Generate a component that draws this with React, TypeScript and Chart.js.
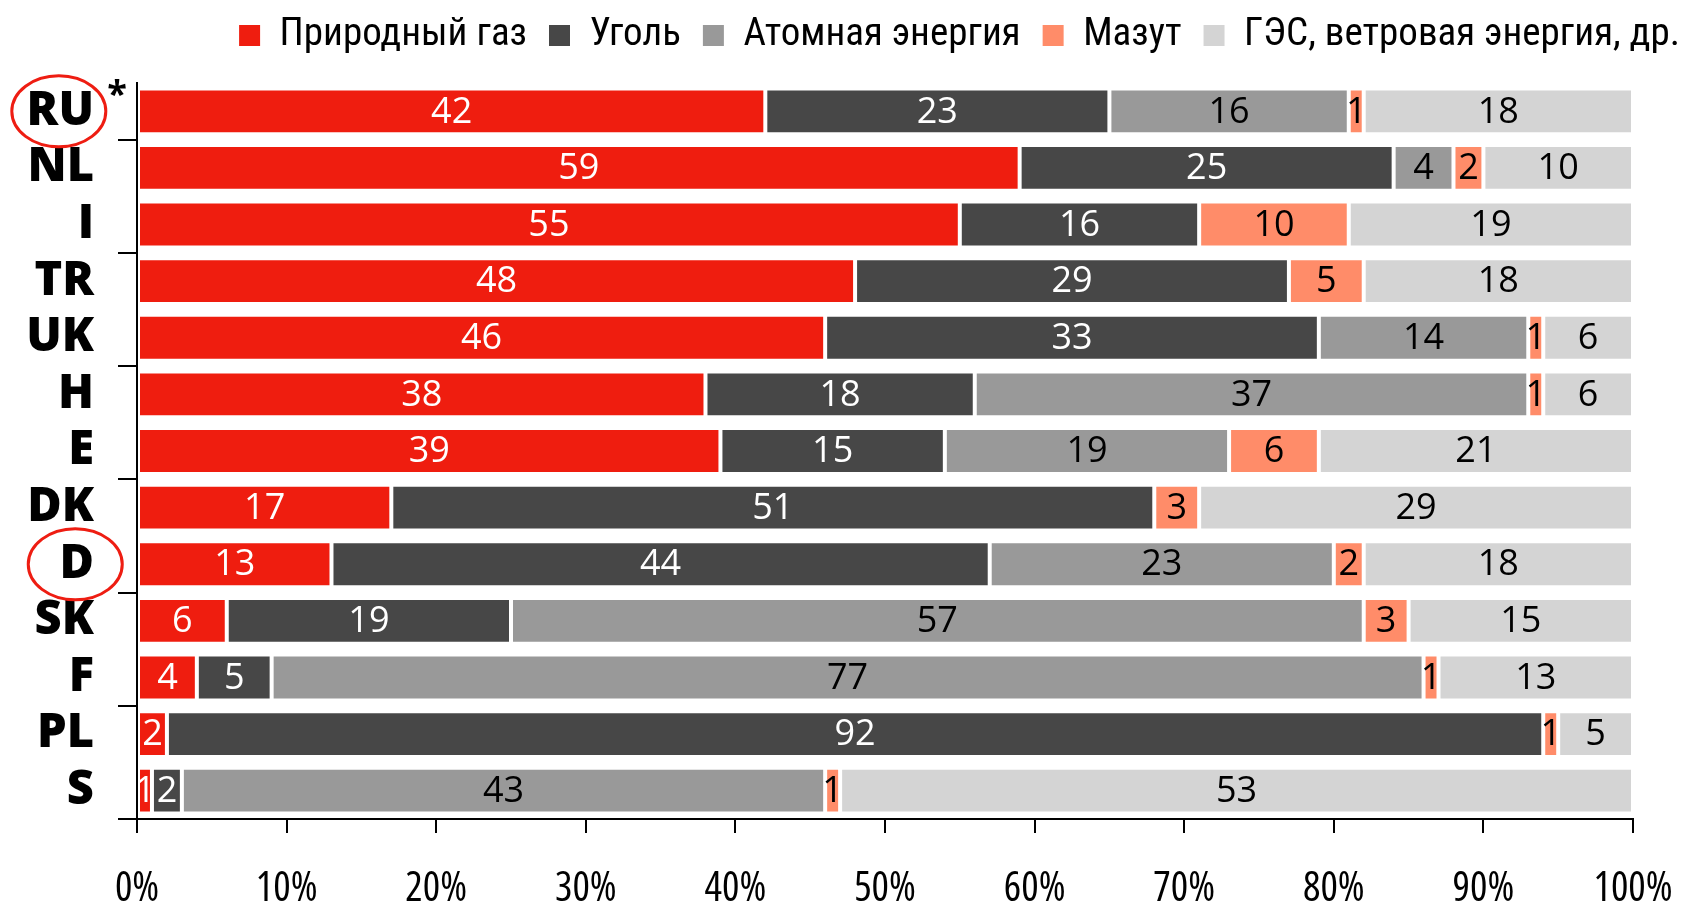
import React, { useEffect, useRef } from 'react';
import { Chart, registerables } from 'chart.js';

Chart.register(...registerables);

const countries = ['RU', 'NL', 'I', 'TR', 'UK', 'H', 'E', 'DK', 'D', 'SK', 'F', 'PL', 'S'];
const naturalGas = [42, 59, 55, 48, 46, 38, 39, 17, 13, 6, 4, 2, 1];
const coal = [23, 25, 16, 29, 33, 18, 15, 51, 44, 19, 5, 92, 2];
const nuclear = [16, 4, 0, 0, 14, 37, 19, 0, 23, 57, 77, 0, 43];
const fuelOil = [1, 2, 10, 5, 1, 1, 6, 3, 2, 3, 1, 1, 1];
const hydroWindOther = [18, 10, 19, 18, 6, 6, 21, 29, 18, 15, 13, 5, 53];

const seriesNames = ['Природный газ', 'Уголь', 'Атомная энергия', 'Мазут', 'ГЭС, ветровая энергия, др.'];
const seriesColors = ['#EF1D0F', '#474747', '#999999', '#FF8C69', '#D4D4D4'];
const valueLabelColors = ['#FFFFFF', '#FFFFFF', '#000000', '#000000', '#000000'];
const xTickValues = [0, 10, 20, 30, 40, 50, 60, 70, 80, 90, 100];
const circledCountries = ['RU', 'D'];
const footnoteCountry = 'RU';

const OPEN = '"Open Sans", "DejaVu Sans Condensed", sans-serif';
const ROBOTO_C = '"Roboto Condensed", "DejaVu Sans Condensed", sans-serif';
const Y_TICK_LEN = 19;
const Y_TICK_PAD = 24;
const Y_FONT_SIZE = 47;
const Y_FONT_WEIGHT = '800';

const legendSpacer = {
  id: 'legendSpacer',
  beforeInit(chart: any) {
    const legend = chart.legend;
    if (!legend) return;
    const orig = legend.fit;
    legend.fit = function () {
      orig.call(this);
      this.height += 18;
    };
  },
};

const valueLabels = {
  id: 'valueLabels',
  afterDatasetsDraw(chart: any) {
    const ctx = chart.ctx;
    ctx.save();
    ctx.font = `36px ${OPEN}`;
    ctx.textAlign = 'center';
    ctx.textBaseline = 'middle';
    chart.data.datasets.forEach((ds: any, di: number) => {
      const meta = chart.getDatasetMeta(di);
      meta.data.forEach((el: any, i: number) => {
        const v = ds.data[i];
        if (!v) return;
        const { x, y, base } = el.getProps(['x', 'y', 'base'], true);
        ctx.fillStyle = valueLabelColors[di];
        ctx.fillText(String(v), (x + base) / 2, y + 1);
      });
    });
    ctx.restore();
  },
};

const markers = {
  id: 'markers',
  afterDraw(chart: any) {
    const ys = chart.scales.y;
    const ctx = chart.ctx;
    ctx.save();
    const labelRight = ys.right - Y_TICK_LEN - Y_TICK_PAD;
    ctx.font = `${Y_FONT_WEIGHT} ${Y_FONT_SIZE}px ${OPEN}`;
    circledCountries.forEach((c) => {
      const i = countries.indexOf(c);
      const y = ys.getPixelForValue(i);
      const w = ctx.measureText(c).width;
      const cx = labelRight - w / 2 - 1.5;
      ctx.beginPath();
      ctx.ellipse(cx, y, 47, 35.5, 0, 0, Math.PI * 2);
      ctx.strokeStyle = '#EE1D12';
      ctx.lineWidth = 3;
      ctx.stroke();
    });
    const fi = countries.indexOf(footnoteCountry);
    const fy = ys.getPixelForValue(fi);
    ctx.font = `bold 36px ${OPEN}`;
    ctx.fillStyle = '#000';
    ctx.textAlign = 'center';
    ctx.textBaseline = 'alphabetic';
    ctx.fillText('*', ys.right - 20, fy - 5);
    ctx.restore();
  },
};

export default function App() {
  const ref = useRef<HTMLCanvasElement>(null);

  useEffect(() => {
    if (!ref.current) return;
    Chart.defaults.font.family = OPEN;
    Chart.defaults.color = '#000';
    const seriesData = [naturalGas, coal, nuclear, fuelOil, hydroWindOther];
    const chart = new Chart(ref.current, {
      type: 'bar',
      data: {
        labels: countries,
        datasets: seriesNames.map((name, i) => ({
          label: name,
          data: seriesData[i],
          backgroundColor: seriesColors[i],
          borderColor: '#FFFFFF',
          borderWidth: 2,
          borderSkipped: false,
          barPercentage: 0.81,
          categoryPercentage: 1,
        })),
      },
      options: {
        animation: false,
        responsive: false,
        indexAxis: 'y',
        layout: { padding: { top: -6, right: -16, left: 0, bottom: 1 } },
        plugins: {
          legend: {
            position: 'top',
            align: 'end',
            labels: {
              font: { family: ROBOTO_C, size: 39 },
              color: '#000',
              boxWidth: 21,
              boxHeight: 21,
              padding: 22,
              generateLabels: (c: any) =>
                (Chart.defaults.plugins.legend.labels.generateLabels as any)(c).map((l: any) => ({
                  ...l,
                  lineWidth: 0,
                  strokeStyle: 'rgba(0,0,0,0)',
                })),
            },
          },
          tooltip: { enabled: false },
        },
        scales: {
          x: {
            stacked: true,
            min: 0,
            max: 100,
            afterBuildTicks: (s: any) => {
              s.ticks = xTickValues.map((v) => ({ value: v }));
            },
            afterFit: (s: any) => {
              s.paddingRight = 53;
              s.height = 88;
            },
            ticks: {
              font: { family: OPEN, size: 41, weight: 'condensed', lineHeight: 1 },
              color: '#000',
              padding: 36,
              maxRotation: 0,
              autoSkip: false,
              callback: (v: any) => `${v}%`,
            },
            grid: {
              drawOnChartArea: false,
              drawTicks: true,
              tickLength: 14,
              tickColor: '#000',
              lineWidth: 2,
            },
            border: { display: true, color: '#000', width: 2 },
          },
          y: {
            stacked: true,
            afterFit: (s: any) => {
              s.width = 137;
              s.paddingTop = 0;
              s.paddingBottom = 0;
            },
            ticks: {
              font: { family: OPEN, size: Y_FONT_SIZE, weight: Y_FONT_WEIGHT, lineHeight: 1 },
              color: '#000',
              padding: Y_TICK_PAD,
            },
            grid: {
              offset: true,
              drawOnChartArea: false,
              drawTicks: true,
              tickLength: Y_TICK_LEN,
              lineWidth: 2,
              tickColor: (ctx: any) =>
                ctx.index === undefined || ctx.index % 2 === 1 ? '#000' : 'rgba(0,0,0,0)',
            },
            border: { display: true, color: '#000', width: 2 },
          },
        },
      } as any,
      plugins: [legendSpacer, valueLabels, markers],
    });
    return () => chart.destroy();
  }, []);

  return (
    <div style={{ position: 'fixed', left: 0, top: 0, width: 1686, height: 908, background: '#fff' }}>
      <canvas ref={ref} width={1686} height={908} style={{ display: 'block' }} />
    </div>
  );
}
